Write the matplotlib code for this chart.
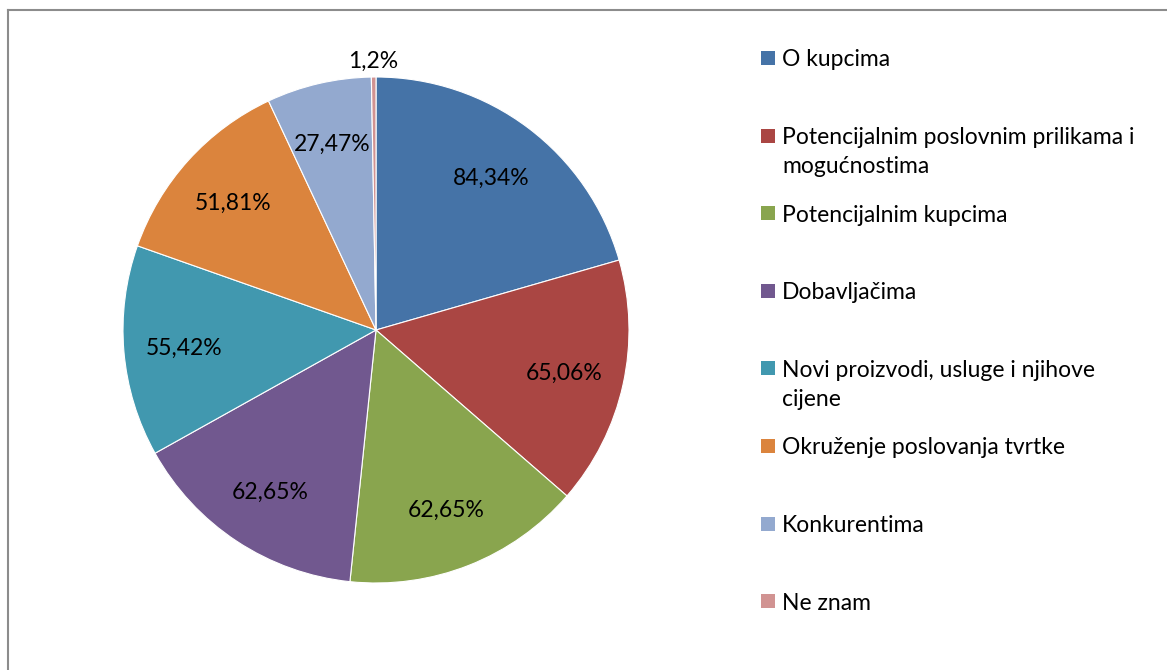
import numpy as np
import matplotlib
matplotlib.use("Agg")
import matplotlib.pyplot as plt
from matplotlib.patches import Rectangle
from matplotlib.lines import Line2D

categories = [
    "O kupcima",
    "Potencijalnim poslovnim prilikama i\nmogućnostima",
    "Potencijalnim kupcima",
    "Dobavljačima",
    "Novi proizvodi, usluge i njihove\ncijene",
    "Okruženje poslovanja tvrtke",
    "Konkurentima",
    "Ne znam",
]
values = [84.34, 65.06, 62.65, 62.65, 55.42, 51.81, 27.47, 1.2]
value_labels = ["84,34%", "65,06%", "62,65%", "62,65%", "55,42%", "51,81%", "27,47%", "1,2%"]
colors = ["#4573A7", "#AA4643", "#89A54E", "#71588F", "#4198AF", "#DB843D", "#93A9CF", "#D19392"]

plt.rcParams["font.family"] = ["Lato", "DejaVu Sans"]
FS = 16.5

W, H = 1167, 670
fig = plt.figure(figsize=(W / 100, H / 100), dpi=100)

# pie axes: centre (376, 330) px, radius 253 px
cx, cy, r = 376, 330, 253
ax = fig.add_axes([(cx - r) / W, (H - cy - r) / H, 2 * r / W, 2 * r / H])
wedges, _ = ax.pie(values, colors=colors, startangle=90, counterclock=False,
                   wedgeprops=dict(edgecolor="white", linewidth=0.8))
ax.set_xlim(-1, 1)
ax.set_ylim(-1, 1)
ax.set_aspect("auto")
ax.axis("off")

for w, lab, v in zip(wedges, value_labels, values):
    mid = np.deg2rad((w.theta1 + w.theta2) / 2)
    d = 0.76 if v > 5 else 1.07
    ax.text(d * np.cos(mid), d * np.sin(mid), lab, ha="center", va="center_baseline",
            fontsize=FS, color="black", clip_on=False)

# legend drawn by hand
y0, step = 58, 77.6
for i, (c, lab) in enumerate(zip(colors, categories)):
    y = y0 + i * step
    fig.patches.append(Rectangle((761 / W, (H - y - 7) / H), 14 / W, 14 / H,
                                 transform=fig.transFigure, facecolor=c, edgecolor="none"))
    for k, line in enumerate(lab.split("\n")):
        fig.text(782 / W, (H - y - k * 29) / H, line, ha="left", va="center_baseline",
                 fontsize=FS, color="black")

# chart border (left and top edges visible)
fig.lines.append(Line2D([8 / W, 1], [1 - 10 / H, 1 - 10 / H], transform=fig.transFigure,
                        color="#8c8c8c", linewidth=1.5))
fig.lines.append(Line2D([8 / W, 8 / W], [0, 1 - 10 / H], transform=fig.transFigure,
                        color="#8c8c8c", linewidth=1.5))

fig.savefig("out.png", dpi=100)
